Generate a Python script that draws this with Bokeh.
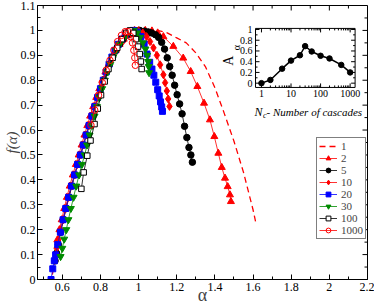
import math
from bokeh.plotting import figure
from bokeh.models import FixedTicker, Legend, LegendItem, Range1d, LogScale, LinearScale
from bokeh.embed import file_html
from bokeh.resources import INLINE

FONT = "Liberation Serif"

# ---------------- main plot data: f(alpha) spectra for several numbers of cascades ----------------
a_1 = [0.548, 0.565, 0.590, 0.620, 0.650, 0.680, 0.710, 0.740, 0.770, 0.800, 0.830, 0.860, 0.890, 0.920,
       0.950, 1.000, 1.050, 1.100, 1.150, 1.200, 1.250, 1.300, 1.350, 1.400, 1.450, 1.500, 1.550, 1.600, 1.613]
f_1 = [0.020, 0.090, 0.190, 0.290, 0.380, 0.460, 0.540, 0.615, 0.690, 0.760, 0.820, 0.870, 0.910, 0.945,
       0.970, 0.990, 0.998, 1.000, 0.990, 0.970, 0.950, 0.910, 0.855, 0.770, 0.665, 0.555, 0.430, 0.280, 0.233]

a_2 = [0.574, 0.585, 0.597, 0.610, 0.624, 0.639, 0.655, 0.671, 0.686, 0.701, 0.716, 0.731, 0.746, 0.762,
       0.778, 0.794, 0.810, 0.826, 0.843, 0.861, 0.880, 0.900, 0.922, 0.946, 0.972, 1.000, 1.035, 1.070,
       1.100, 1.130, 1.182, 1.234, 1.273, 1.308, 1.343, 1.374, 1.397, 1.418, 1.436, 1.453, 1.467, 1.479, 1.484]
f_2 = [0.159, 0.200, 0.240, 0.285, 0.330, 0.375, 0.420, 0.462, 0.500, 0.540, 0.580, 0.618, 0.656, 0.694,
       0.731, 0.766, 0.800, 0.833, 0.864, 0.893, 0.920, 0.944, 0.965, 0.982, 0.993, 0.999, 1.000, 0.998,
       0.990, 0.975, 0.936, 0.889, 0.835, 0.775, 0.708, 0.641, 0.574, 0.507, 0.450, 0.407, 0.373, 0.340, 0.313]

a_5 = [0.562, 0.570, 0.579, 0.592, 0.606, 0.620, 0.635, 0.650, 0.666, 0.682, 0.697, 0.712, 0.727, 0.742,
       0.757, 0.772, 0.787, 0.802, 0.817, 0.832, 0.848, 0.864, 0.881, 0.899, 0.918, 0.938, 0.960, 0.983,
       1.006, 1.030, 1.050, 1.068, 1.088, 1.105, 1.121, 1.136, 1.150, 1.163, 1.176, 1.189, 1.202, 1.215,
       1.228, 1.241, 1.253, 1.264, 1.274, 1.282]
f_5 = [0.075, 0.105, 0.140, 0.190, 0.240, 0.285, 0.330, 0.375, 0.420, 0.462, 0.500, 0.540, 0.580, 0.618,
       0.656, 0.694, 0.731, 0.766, 0.800, 0.833, 0.864, 0.893, 0.920, 0.944, 0.965, 0.982, 0.993, 0.999,
       1.000, 0.997, 0.994, 0.990, 0.983, 0.972, 0.952, 0.925, 0.890, 0.855, 0.820, 0.780, 0.742, 0.705,
       0.665, 0.615, 0.570, 0.530, 0.500, 0.471]

a_10 = [0.570, 0.580, 0.592, 0.604, 0.618, 0.632, 0.647, 0.663, 0.679, 0.694, 0.709, 0.724, 0.739, 0.754,
        0.769, 0.784, 0.799, 0.814, 0.829, 0.845, 0.861, 0.878, 0.896, 0.915, 0.935, 0.956, 0.978, 1.000,
        1.022, 1.042, 1.060, 1.078, 1.096, 1.113, 1.130, 1.139, 1.148, 1.155, 1.162]
f_10 = [0.126, 0.160, 0.200, 0.240, 0.285, 0.330, 0.375, 0.420, 0.462, 0.500, 0.540, 0.580, 0.618, 0.656,
        0.694, 0.731, 0.766, 0.800, 0.833, 0.864, 0.893, 0.920, 0.944, 0.965, 0.982, 0.994, 1.000, 0.998,
        0.990, 0.975, 0.955, 0.930, 0.900, 0.862, 0.822, 0.790, 0.757, 0.725, 0.695]

a_20 = [0.541, 0.550, 0.558, 0.565, 0.576, 0.590, 0.604, 0.618, 0.633, 0.648, 0.664, 0.680, 0.695, 0.710,
        0.725, 0.740, 0.755, 0.770, 0.785, 0.800, 0.815, 0.830, 0.845, 0.860, 0.876, 0.893, 0.911, 0.930,
        0.950, 0.972, 0.993, 1.012, 1.029, 1.044, 1.058, 1.070, 1.080, 1.090, 1.100, 1.108, 1.115, 1.121, 1.125]
f_20 = [0.000, 0.043, 0.075, 0.099, 0.140, 0.190, 0.240, 0.285, 0.330, 0.375, 0.420, 0.462, 0.500, 0.540,
        0.580, 0.618, 0.656, 0.694, 0.731, 0.766, 0.800, 0.833, 0.864, 0.893, 0.920, 0.944, 0.965, 0.982,
        0.994, 1.000, 0.993, 0.975, 0.945, 0.905, 0.872, 0.845, 0.820, 0.792, 0.762, 0.737, 0.713, 0.693, 0.675]

a_30 = [0.591, 0.600, 0.610, 0.621, 0.632, 0.645, 0.659, 0.673, 0.688, 0.703, 0.717, 0.730, 0.743, 0.756,
        0.769, 0.782, 0.795, 0.809, 0.823, 0.837, 0.852, 0.867, 0.883, 0.900, 0.918, 0.937, 0.956, 0.975,
        0.993, 1.008, 1.022, 1.036, 1.045, 1.050, 1.053, 1.055]
f_30 = [0.092, 0.125, 0.162, 0.200, 0.240, 0.285, 0.330, 0.375, 0.420, 0.462, 0.500, 0.540, 0.580, 0.618,
        0.656, 0.694, 0.731, 0.766, 0.800, 0.833, 0.864, 0.893, 0.920, 0.944, 0.965, 0.982, 0.994, 1.000,
        0.990, 0.972, 0.950, 0.925, 0.900, 0.875, 0.855, 0.830]

a_100 = [0.700, 0.712, 0.731, 0.748, 0.769, 0.786, 0.803, 0.822, 0.842, 0.864, 0.888, 0.912, 0.935, 0.955,
         0.972, 0.986, 0.997, 1.006, 1.012, 1.016]
f_100 = [0.364, 0.430, 0.497, 0.558, 0.624, 0.686, 0.740, 0.795, 0.845, 0.890, 0.930, 0.965, 0.990, 1.000,
         0.990, 0.965, 0.935, 0.905, 0.875, 0.845]

a_1000 = [0.750, 0.770, 0.790, 0.810, 0.830, 0.850, 0.870, 0.890, 0.910, 0.930, 0.945, 0.958, 0.968, 0.975,
          0.980, 0.983]
f_1000 = [0.620, 0.680, 0.740, 0.790, 0.840, 0.880, 0.920, 0.955, 0.980, 0.995, 0.995, 0.975, 0.950, 0.920,
          0.890, 0.860]

x_ticks = [0.6, 0.8, 1.0, 1.2, 1.4, 1.6, 1.8, 2.0, 2.2]
x_tick_labels = ["0.6", "0.8", "1", "1.2", "1.4", "1.6", "1.8", "2", "2.2"]
x_minor = [0.5, 0.7, 0.9, 1.1, 1.3, 1.5, 1.7, 1.9, 2.1]
y_ticks = [0.0, 0.1, 0.2, 0.3, 0.4, 0.5, 0.6, 0.7, 0.8, 0.9, 1.0, 1.1]
y_tick_labels = ["0", "0.1", "0.2", "0.3", "0.4", "0.5", "0.6", "0.7", "0.8", "0.9", "1", "1.1"]
y_minor = [0.05, 0.15, 0.25, 0.35, 0.45, 0.55, 0.65, 0.75, 0.85, 0.95, 1.05]

# ---------------- inset data ----------------
nc = [1, 2, 5, 10, 20, 30, 50, 100, 200, 500, 1000]
a_alpha = [0.00, 0.06, 0.27, 0.42, 0.52, 0.69, 0.59, 0.51, 0.46, 0.34, 0.20]
in_x_ticks = [1, 10, 100, 1000]
in_x_labels = ["1", "10", "100", "1000"]
in_x_minor = [2, 3, 4, 5, 6, 7, 8, 9, 20, 30, 40, 50, 60, 70, 80, 90, 200, 300, 400, 500, 600, 700, 800, 900]
in_y_ticks = [0.0, 0.2, 0.4, 0.6, 0.8, 1.0]
in_y_labels = ["0", "0.2", "0.4", "0.6", "0.8", "1"]
in_y_minor = [0.1, 0.3, 0.5, 0.7, 0.9]

# ---------------- layout constants ----------------
X0, X1 = 0.47, 2.2          # main alpha range
Y0, Y1 = 0.0, 1.1           # main f range
IX0, IX1 = 0.63, 1470.0     # inset N_c range (log)
IY0, IY1 = -0.08, 1.02      # inset A range
# where the inset frame sits, in main-axis units
BX0, BX1 = 1.613, 2.135
BY0, BY1 = 0.771, 1.008

# extra ranges that map the inset data onto that box
lx0, lx1 = math.log10(IX0), math.log10(IX1)
kx = (lx1 - lx0) / (BX1 - BX0)
ex0 = 10 ** (lx0 - (BX0 - X0) * kx)
ex1 = 10 ** (lx1 + (X1 - BX1) * kx)
ky = (IY1 - IY0) / (BY1 - BY0)
ey0 = IY0 - (BY0 - Y0) * ky
ey1 = IY1 + (Y1 - BY1) * ky

p = figure(width=374, height=307, output_backend="svg", toolbar_location=None,
           x_range=Range1d(X0, X1), y_range=Range1d(Y0, Y1),
           min_border_left=34, min_border_right=7, min_border_top=5, min_border_bottom=28)
p.extra_x_ranges = {"ix": Range1d(ex0, ex1)}
p.extra_x_scales = {"ix": LogScale()}
p.extra_y_ranges = {"iy": Range1d(ey0, ey1)}
p.extra_y_scales = {"iy": LinearScale()}
p.grid.visible = False
p.outline_line_color = "black"
p.outline_line_width = 1
p.background_fill_color = "white"
p.border_fill_color = "white"


def style_axis(ax, ticks, labels, minor, fs):
    ax.ticker = FixedTicker(ticks=ticks, minor_ticks=minor)
    ax.major_label_overrides = {t: l for t, l in zip(ticks, labels)}
    ax.major_tick_in = 5
    ax.major_tick_out = 0
    ax.minor_tick_in = 3
    ax.minor_tick_out = 0
    ax.axis_line_color = "black"
    ax.major_label_text_font = FONT
    ax.major_label_text_font_size = fs
    ax.major_label_text_color = "black"
    ax.major_label_standoff = 3


style_axis(p.xaxis[0], x_ticks, x_tick_labels, x_minor, "12px")
style_axis(p.yaxis[0], y_ticks, y_tick_labels, y_minor, "12px")
p.yaxis[0].major_label_standoff = 2
p.xaxis[0].axis_label = "α"
p.xaxis[0].axis_label_text_font = FONT
p.xaxis[0].axis_label_text_font_size = "18px"
p.xaxis[0].axis_label_text_font_style = "normal"
p.xaxis[0].axis_label_standoff = -9
p.yaxis[0].axis_label = "f(α)"
p.yaxis[0].axis_label_text_font = FONT
p.yaxis[0].axis_label_text_font_size = "15px"
p.yaxis[0].axis_label_text_font_style = "italic"
p.yaxis[0].axis_label_standoff = -2

# mirrored inward ticks on the top and right edges of the main frame
p.ray(x=x_ticks, y=Y1, length=5, angle=-math.pi / 2, length_units="screen", line_color="black")
p.ray(x=x_minor, y=Y1, length=3, angle=-math.pi / 2, length_units="screen", line_color="black")
p.ray(x=X1, y=y_ticks, length=5, angle=math.pi, length_units="screen", line_color="black")
p.ray(x=X1, y=y_minor, length=3, angle=math.pi, length_units="screen", line_color="black")

RED = "#ff0000"
GREEN = "#008b00"
BLUE = "#0000ff"

items = []
r = p.line(a_1, f_1, line_color=RED, line_width=1.3, line_dash="6 4")
items.append(LegendItem(label="1", renderers=[r]))

series = [
    ("2", a_2, f_2, RED, "triangle", RED, 7),
    ("5", a_5, f_5, "black", "circle", "black", 6.5),
    ("10", a_10, f_10, RED, "diamond", RED, 8),
    ("20", a_20, f_20, BLUE, "square", BLUE, 6),
    ("30", a_30, f_30, GREEN, "inverted_triangle", GREEN, 7),
    ("100", a_100, f_100, "black", "square", "white", 5.5),
    ("1000", a_1000, f_1000, RED, "circle", None, 6.5),
]
for lab, xs, ys, col, mk, fill, sz in series:
    rl = p.line(xs, ys, line_color=col, line_width=1, line_alpha=0.8)
    rs = p.scatter(xs, ys, marker=mk, size=sz, line_color=col, fill_color=fill, line_width=1)
    items.append(LegendItem(label=lab, renderers=[rl, rs]))

# ---------------- inset drawn on the extra ranges ----------------
IR = dict(x_range_name="ix", y_range_name="iy")
p.quad(left=IX0, right=IX1, bottom=IY0, top=IY1, fill_color="white", line_color="black", line_width=1, **IR)
p.ray(x=in_x_ticks, y=IY0, length=4, angle=math.pi / 2, length_units="screen", line_color="black", **IR)
p.ray(x=in_x_minor, y=IY0, length=2, angle=math.pi / 2, length_units="screen", line_color="black", **IR)
p.ray(x=in_x_ticks, y=IY1, length=4, angle=-math.pi / 2, length_units="screen", line_color="black", **IR)
p.ray(x=in_x_minor, y=IY1, length=2, angle=-math.pi / 2, length_units="screen", line_color="black", **IR)
p.ray(x=IX0, y=in_y_ticks, length=4, angle=0, length_units="screen", line_color="black", **IR)
p.ray(x=IX0, y=in_y_minor, length=2, angle=0, length_units="screen", line_color="black", **IR)
p.ray(x=IX1, y=in_y_ticks, length=4, angle=math.pi, length_units="screen", line_color="black", **IR)
p.ray(x=IX1, y=in_y_minor, length=2, angle=math.pi, length_units="screen", line_color="black", **IR)
p.line(nc, a_alpha, line_color="black", line_width=1.5, **IR)
p.scatter(nc, a_alpha, marker="circle", size=5.5, line_color="black", fill_color="black", **IR)
p.text(x=in_x_ticks, y=IY0, text=in_x_labels, y_offset=3, text_align="center", text_baseline="top",
       text_font=FONT, text_font_size="10px", text_color="black", **IR)
p.text(x=IX0, y=in_y_ticks, text=in_y_labels, x_offset=-3, text_align="right", text_baseline="middle",
       text_font=FONT, text_font_size="10px", text_color="black", **IR)
p.text(x=IX0, y=IY0, text=["N"], x_offset=-1, y_offset=25, text_align="left", text_baseline="alphabetic",
       text_font=FONT, text_font_size="12px", text_font_style="italic", text_color="black", **IR)
p.text(x=IX0, y=IY0, text=["c"], x_offset=7.5, y_offset=28, text_align="left", text_baseline="alphabetic",
       text_font=FONT, text_font_size="8px", text_font_style="italic", text_color="black", **IR)
p.text(x=IX0, y=IY0, text=[" - Number of cascades"], x_offset=11, y_offset=25, text_align="left",
       text_baseline="alphabetic", text_font=FONT, text_font_size="11px", text_font_style="italic",
       text_color="black", **IR)
p.text(x=IX0, y=[0.42], text=["A"], x_offset=-27, text_align="center", text_baseline="middle",
       angle=math.pi / 2, text_font=FONT, text_font_size="14px", text_color="black", **IR)
p.text(x=IX0, y=[0.66], text=["α"], x_offset=-19, text_align="center", text_baseline="middle",
       angle=math.pi / 2, text_font=FONT, text_font_size="10px", text_color="black", **IR)

leg = Legend(items=items, location=(279, 40))
leg.label_text_font = FONT
leg.label_text_font_size = "11px"
leg.label_text_line_height = 1.0
leg.label_height = 12
leg.glyph_height = 12
leg.glyph_width = 18
leg.label_standoff = 4
leg.spacing = 0
leg.padding = 2
leg.margin = 0
leg.border_line_color = "black"
leg.border_line_width = 1
leg.background_fill_alpha = 1
p.add_layout(leg)

open("out.html", "w").write(file_html(p, INLINE))
